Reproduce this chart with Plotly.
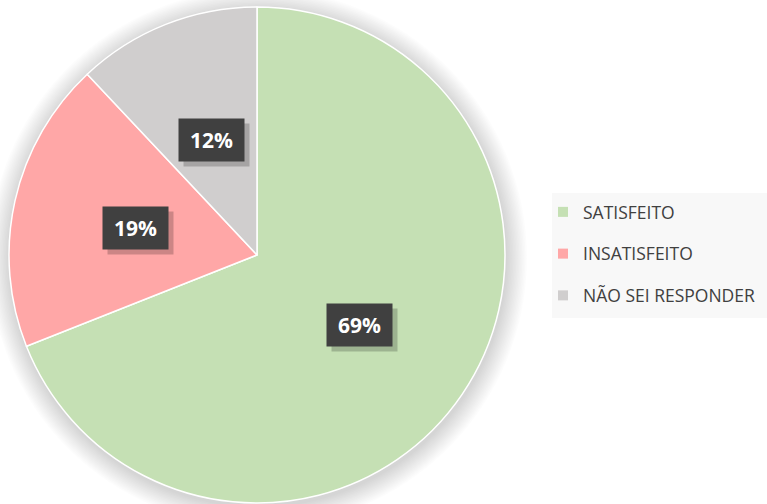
import math
import plotly.graph_objects as go

labels = ["SATISFEITO", "INSATISFEITO", "NÃO SEI RESPONDER"]
values = [69, 19, 12]
colors = ["#C5E0B4", "#FFA7A7", "#D0CECE"]

W, H = 767, 504
cx, cy, R = 257, 255, 248

fig = go.Figure()

# soft shadow behind pie
shapes = []
for i in range(14, 0, -1):
    rr = R + 1.5 * i
    ox, oy = 1, 3
    shapes.append(dict(type="circle", xref="paper", yref="paper",
                       x0=(cx + ox - rr) / W, x1=(cx + ox + rr) / W,
                       y0=1 - (cy + oy + rr) / H, y1=1 - (cy + oy - rr) / H,
                       fillcolor="rgba(0,0,0,0.011)", line=dict(width=0), layer="below"))
# legend background
shapes.append(dict(type="rect", xref="paper", yref="paper",
                   x0=552 / W, x1=1, y0=1 - 318 / H, y1=1 - 193 / H,
                   fillcolor="#F8F8F8", line=dict(width=0), layer="below"))

fig.add_trace(go.Pie(
    labels=labels, values=values, sort=False, direction="clockwise", rotation=0,
    marker=dict(colors=colors, line=dict(color="white", width=1.5)),
    textinfo="none", hoverinfo="label+percent", showlegend=False,
    domain=dict(x=[(cx - R) / W, (cx + R) / W], y=[1 - (cy + R) / H, 1 - (cy - R) / H]),
))

for lab, col in zip(labels, colors):
    fig.add_trace(go.Scatter(x=[None], y=[None], mode="markers", name=lab,
                             legendgroup=lab,
                             marker=dict(symbol="square", size=10, color=col)))

annotations = []
total = sum(values)
cum = 0
for v in values:
    mid = (cum + v / 2) / total * 2 * math.pi
    cum += v
    px = cx + 0.5 * R * math.sin(mid)
    py = cy - 0.5 * R * math.cos(mid)
    txt = f"{round(v / total * 100)}%"
    annotations.append(dict(x=(px + 5) / W, y=1 - (py + 5) / H, xref="paper", yref="paper",
                            xanchor="center", yanchor="middle",
                            text=" ", showarrow=False, width=63, height=40,
                            bgcolor="rgba(0,0,0,0.2)"))
    annotations.append(dict(x=px / W, y=1 - py / H, xref="paper", yref="paper",
                            xanchor="center", yanchor="middle",
                            text=f"<b>{txt}</b>", showarrow=False, width=63, height=40,
                            bgcolor="#404040",
                            font=dict(family="Open Sans", size=21, color="white")))

fig.update_layout(
    width=W, height=H,
    margin=dict(l=0, r=0, t=0, b=0),
    paper_bgcolor="white", plot_bgcolor="white",
    xaxis=dict(visible=False), yaxis=dict(visible=False),
    shapes=shapes, annotations=annotations,
    legend=dict(x=543 / W, xanchor="left", y=1 - 194 / H, yanchor="top",
                bgcolor="rgba(0,0,0,0)", tracegroupgap=16,
                font=dict(family="Open Sans", size=17.5, color="#404040")),
)

fig.write_html("out.html", config={"displayModeBar": False},
               post_script="document.body.style.margin='0';")
